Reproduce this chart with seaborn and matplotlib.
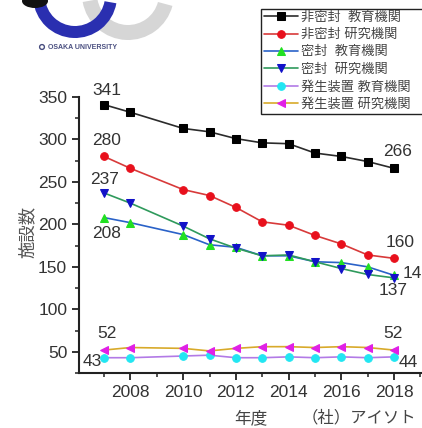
import matplotlib
matplotlib.use('Agg')
import seaborn as sns
from matplotlib import pyplot as plt
from matplotlib.patches import Ellipse, Wedge, Circle
from matplotlib.ticker import MultipleLocator

# データ
years = [2007, 2008, 2010, 2011, 2012, 2013, 2014, 2015, 2016, 2017, 2018]
unsealed_edu = [341, 332, 313, 309, 301, 296, 295, 284, 280, 274, 266]
unsealed_res = [280, 266, 241, 234, 220, 203, 199, 187, 177, 164, 160]
sealed_edu = [208, 202, 188, 176, 173, 163, 163, 156, 155, 150, 140]
sealed_res = [237, 225, 198, 183, 172, 163, 164, 156, 148, 141, 137]
gen_edu = [43, 43, 45, 46, 43, 43, 44, 43, 44, 43, 44]
gen_res = [52, 55, 54, 51, 54, 56, 56, 55, 56, 55, 52]

labels = ['非密封  教育機関', '非密封 研究機関', '密封  教育機関',
          '密封  研究機関', '発生装置 教育機関', '発生装置 研究機関']
series = [unsealed_edu, unsealed_res, sealed_edu, sealed_res, gen_edu, gen_res]
line_colors = ['#2b2b2b', '#d83a3a', '#2a62c8', '#2f9a5c', '#b27ae6', '#d8aa2a']
marker_colors = ['#000000', '#e8101c', '#22e022', '#1212c8', '#22e6f2', '#e020e6']
markers = ['s', 'o', '^', 'v', 'o', '<']

sns.set_style('ticks')
plt.rcParams['font.family'] = ['Liberation Sans', 'Noto Sans CJK JP', 'DejaVu Sans']

W, H = 422, 428
fig = plt.figure(figsize=(W / 100, H / 100), dpi=100)

# 背景のロゴ（大阪大学）
bg = fig.add_axes([0, 0, 1, 1])
bg.set_xlim(0, W)
bg.set_ylim(H, 0)
bg.axis('off')
bg.add_patch(Wedge((128, -6), 46, 15, 170, width=15, color='#d6d6d6', lw=0))
bg.add_patch(Wedge((75, -4), 42, 10, 175, width=12, color='#2a2fb0', lw=0))
bg.add_patch(Ellipse((35, 1), 26, 14, color='#111111', lw=0))
bg.add_patch(Circle((42, 47), 2.4, fill=False, ec='#4a4f80', lw=1))
bg.text(48, 47, 'OSAKA UNIVERSITY', fontsize=5, color='#4a4f80',
        va='center', ha='left', fontweight='bold')

# メイン
ax = fig.add_axes([79 / W, 1 - 373 / H, 1 - 79 / W, (373 - 97) / H])
ax.patch.set_alpha(0)
for vals, lab, lc, mc, mk in zip(series, labels, line_colors, marker_colors, markers):
    sns.lineplot(x=years, y=vals, ax=ax, color=lc, lw=1.2, marker=mk,
                 markersize=5.5, markerfacecolor=mc, markeredgecolor=mc,
                 label=lab)

ax.set_xlim(2006.05, 2019.06)
ax.set_ylim(25, 350)
ax.xaxis.set_major_locator(MultipleLocator(2))
ax.xaxis.set_minor_locator(MultipleLocator(1))
ax.yaxis.set_major_locator(MultipleLocator(50))
ax.yaxis.set_minor_locator(MultipleLocator(25))
ax.set_xticks(range(2008, 2019, 2))
ax.tick_params(which='major', direction='out', length=5, width=1.3,
               labelsize=12.5, labelcolor='#333333', color='#222222')
ax.tick_params(which='minor', direction='out', length=3, width=1.1, color='#222222')
sns.despine(ax=ax)
for s in ['left', 'bottom']:
    ax.spines[s].set_linewidth(1.5)
    ax.spines[s].set_color('#222222')

# 数値ラベル
notes = [
    (years[0], unsealed_edu[0], 3, 14, 'center'),
    (years[0], unsealed_res[0], 3, 16, 'center'),
    (years[0], sealed_res[0], 1, 13, 'center'),
    (years[0], sealed_edu[0], 3, -16, 'center'),
    (years[-1], unsealed_edu[-1], 4, 17, 'center'),
    (years[-1], unsealed_res[-1], 6, 16, 'center'),
    (years[-1], sealed_edu[-1], 9, 2, 'left'),
    (years[-1], sealed_res[-1], -1, -13, 'center'),
    (years[0], gen_res[0], 3, 17, 'center'),
    (years[0], gen_edu[0], -12, -4, 'center'),
    (years[-1], gen_res[-1], -1, 17, 'center'),
    (years[-1], gen_edu[-1], 14, -6, 'center'),
]
for x, y, dx, dy, ha in notes:
    ax.annotate(str(y), (x, y), xytext=(dx, dy), textcoords='offset pixels',
                ha=ha, va='center', fontsize=12.5, color='#333333',
                annotation_clip=False)

ax.set_xlabel('')
ax.set_ylabel('')
fig.text(27 / W, 1 - 232 / H, '施設数', rotation=90, ha='center', va='center',
         fontsize=12.5, color='#555555')
fig.text(251 / W, 1 - 418 / H, '年度', ha='center', va='center',
         fontsize=12, color='#444444')
fig.text(302 / W, 1 - 418 / H, '（社）アイソト', ha='left', va='center',
         fontsize=11.8, color='#444444')

# 凡例（右端は画像の外まで続く）
leg = ax.legend(loc='upper left', bbox_to_anchor=(261 / W, 0, 175 / W, 1 - 9 / H),
                bbox_transform=fig.transFigure, mode='expand', fontsize=9.5,
                frameon=True, fancybox=False, edgecolor='#222222', framealpha=1,
                handlelength=2.6, handletextpad=0.25, labelspacing=0.38,
                borderpad=0.2, borderaxespad=0)
leg.get_frame().set_linewidth(1.0)
for t in leg.get_texts():
    t.set_color('#444444')

fig.savefig('out.png', dpi=100)
